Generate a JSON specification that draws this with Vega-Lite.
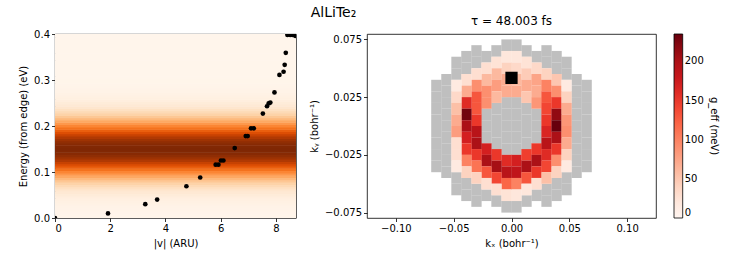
{
  "$schema": "https://vega.github.io/schema/vega-lite/v6.json",
  "padding": {"left": 18, "top": 5, "right": 5, "bottom": 5},
  "bounds": "flush",
  "spacing": 71,
  "datasets": {
    "band": [
      {"e":0.000,"v":0.003},{"e":0.005,"v":0.004},{"e":0.010,"v":0.006},{"e":0.015,"v":0.009},{"e":0.020,"v":0.013},
      {"e":0.025,"v":0.018},{"e":0.030,"v":0.024},{"e":0.035,"v":0.033},{"e":0.040,"v":0.044},{"e":0.045,"v":0.058},
      {"e":0.050,"v":0.076},{"e":0.055,"v":0.097},{"e":0.060,"v":0.123},{"e":0.065,"v":0.155},{"e":0.070,"v":0.192},
      {"e":0.075,"v":0.234},{"e":0.080,"v":0.282},{"e":0.085,"v":0.336},{"e":0.090,"v":0.395},{"e":0.095,"v":0.458},
      {"e":0.100,"v":0.524},{"e":0.105,"v":0.593},{"e":0.110,"v":0.662},{"e":0.115,"v":0.729},{"e":0.120,"v":0.793},
      {"e":0.125,"v":0.851},{"e":0.130,"v":0.902},{"e":0.135,"v":0.944},{"e":0.140,"v":0.975},{"e":0.145,"v":0.994},
      {"e":0.150,"v":1.000},{"e":0.155,"v":0.994},{"e":0.160,"v":0.975},{"e":0.165,"v":0.944},{"e":0.170,"v":0.902},
      {"e":0.175,"v":0.851},{"e":0.180,"v":0.793},{"e":0.185,"v":0.729},{"e":0.190,"v":0.662},{"e":0.195,"v":0.593},
      {"e":0.200,"v":0.524},{"e":0.205,"v":0.458},{"e":0.210,"v":0.395},{"e":0.215,"v":0.336},{"e":0.220,"v":0.282},
      {"e":0.225,"v":0.234},{"e":0.230,"v":0.192},{"e":0.235,"v":0.155},{"e":0.240,"v":0.123},{"e":0.245,"v":0.097},
      {"e":0.250,"v":0.076},{"e":0.255,"v":0.058},{"e":0.260,"v":0.044},{"e":0.265,"v":0.033},{"e":0.270,"v":0.024},
      {"e":0.275,"v":0.018},{"e":0.280,"v":0.013},{"e":0.285,"v":0.009},{"e":0.290,"v":0.006},{"e":0.295,"v":0.004},
      {"e":0.300,"v":0.003},{"e":0.305,"v":0.002},{"e":0.310,"v":0.001},{"e":0.315,"v":0.001},{"e":0.320,"v":0.001},
      {"e":0.325,"v":0},{"e":0.330,"v":0},{"e":0.335,"v":0},{"e":0.340,"v":0},{"e":0.345,"v":0},
      {"e":0.350,"v":0},{"e":0.355,"v":0},{"e":0.360,"v":0},{"e":0.365,"v":0},{"e":0.370,"v":0},
      {"e":0.375,"v":0},{"e":0.380,"v":0},{"e":0.385,"v":0},{"e":0.390,"v":0},{"e":0.395,"v":0},{"e":0.400,"v":0}
    ],
    "pts": [
      {"speed":0,"energy":0},{"speed":1.92,"energy":0.010},{"speed":3.27,"energy":0.030},{"speed":3.70,"energy":0.040},
      {"speed":4.76,"energy":0.069},{"speed":5.26,"energy":0.088},{"speed":5.82,"energy":0.116},{"speed":5.92,"energy":0.116},
      {"speed":6.01,"energy":0.125},{"speed":6.10,"energy":0.125},{"speed":6.51,"energy":0.152},{"speed":6.91,"energy":0.178},
      {"speed":6.98,"energy":0.178},{"speed":7.10,"energy":0.195},{"speed":7.20,"energy":0.195},{"speed":7.53,"energy":0.227},
      {"speed":7.68,"energy":0.243},{"speed":7.74,"energy":0.249},{"speed":7.80,"energy":0.251},{"speed":7.95,"energy":0.273},
      {"speed":8.13,"energy":0.311},{"speed":8.28,"energy":0.318},{"speed":8.32,"energy":0.333},{"speed":8.36,"energy":0.359},
      {"speed":8.42,"energy":0.398},{"speed":8.52,"energy":0.398},{"speed":8.60,"energy":0.398},{"speed":8.70,"energy":0.396}
    ],
    "grey": [
      {"kx":0.065,"ky":0.005},{"kx":0.065,"ky":0.015},{"kx":0.065,"ky":0.025},{"kx":0.065,"ky":0.035},
      {"kx":0.065,"ky":-0.005},{"kx":0.065,"ky":-0.015},{"kx":0.065,"ky":-0.025},{"kx":0.065,"ky":-0.035},
      {"kx":-0.065,"ky":0.005},{"kx":-0.065,"ky":0.015},{"kx":-0.065,"ky":0.025},{"kx":-0.065,"ky":0.035},
      {"kx":-0.065,"ky":-0.005},{"kx":-0.065,"ky":-0.015},{"kx":-0.065,"ky":-0.025},{"kx":-0.065,"ky":-0.035},
      {"kx":0.0563,"ky":0},{"kx":0.0563,"ky":0.01},{"kx":0.0563,"ky":0.02},{"kx":0.0563,"ky":0.03},{"kx":0.0563,"ky":0.04},
      {"kx":0.0563,"ky":-0.01},{"kx":0.0563,"ky":-0.02},{"kx":0.0563,"ky":-0.03},{"kx":0.0563,"ky":-0.04},
      {"kx":-0.0563,"ky":0},{"kx":-0.0563,"ky":0.01},{"kx":-0.0563,"ky":0.02},{"kx":-0.0563,"ky":0.03},{"kx":-0.0563,"ky":0.04},
      {"kx":-0.0563,"ky":-0.01},{"kx":-0.0563,"ky":-0.02},{"kx":-0.0563,"ky":-0.03},{"kx":-0.0563,"ky":-0.04},
      {"kx":0.0476,"ky":0.045},{"kx":0.0476,"ky":0.055},{"kx":0.0476,"ky":-0.045},{"kx":0.0476,"ky":-0.055},
      {"kx":-0.0476,"ky":0.045},{"kx":-0.0476,"ky":0.055},{"kx":-0.0476,"ky":-0.045},{"kx":-0.0476,"ky":-0.055},
      {"kx":0.039,"ky":0.05},{"kx":0.039,"ky":0.06},{"kx":0.039,"ky":-0.05},{"kx":0.039,"ky":-0.06},
      {"kx":-0.039,"ky":0.05},{"kx":-0.039,"ky":0.06},{"kx":-0.039,"ky":-0.05},{"kx":-0.039,"ky":-0.06},
      {"kx":0.0303,"ky":0.055},{"kx":0.0303,"ky":0.065},{"kx":0.0303,"ky":-0.055},{"kx":0.0303,"ky":-0.065},
      {"kx":-0.0303,"ky":0.055},{"kx":-0.0303,"ky":0.065},{"kx":-0.0303,"ky":-0.055},{"kx":-0.0303,"ky":-0.065},
      {"kx":0.0217,"ky":0.06},{"kx":0.0217,"ky":-0.06},{"kx":-0.0217,"ky":0.06},{"kx":-0.0217,"ky":-0.06},
      {"kx":0.013,"ky":0.065},{"kx":0.013,"ky":-0.065},{"kx":-0.013,"ky":0.065},{"kx":-0.013,"ky":-0.065},
      {"kx":0.0043,"ky":0.07},{"kx":0.0043,"ky":-0.07},{"kx":-0.0043,"ky":0.07},{"kx":-0.0043,"ky":-0.07},
      {"kx":0.0217,"ky":0},{"kx":0.0217,"ky":0.01},{"kx":0.0217,"ky":-0.01},
      {"kx":-0.0217,"ky":0},{"kx":-0.0217,"ky":0.01},{"kx":-0.0217,"ky":-0.01},
      {"kx":0.013,"ky":0.005},{"kx":0.013,"ky":0.015},{"kx":0.013,"ky":-0.005},{"kx":0.013,"ky":-0.015},
      {"kx":-0.013,"ky":0.005},{"kx":-0.013,"ky":0.015},{"kx":-0.013,"ky":-0.005},{"kx":-0.013,"ky":-0.015},
      {"kx":0.0043,"ky":0},{"kx":0.0043,"ky":0.01},{"kx":0.0043,"ky":0.02},{"kx":0.0043,"ky":-0.01},{"kx":0.0043,"ky":-0.02},
      {"kx":-0.0043,"ky":0},{"kx":-0.0043,"ky":0.01},{"kx":-0.0043,"ky":0.02},{"kx":-0.0043,"ky":-0.01},{"kx":-0.0043,"ky":-0.02}
    ],
    "ring": [
      {"kx":0.0043,"ky":0.06,"g":20},{"kx":0.0043,"ky":0.05,"g":35},{"kx":0.0043,"ky":0.04,"g":60},{"kx":0.0043,"ky":0.03,"g":70},
      {"kx":0.0043,"ky":-0.03,"g":170},{"kx":0.0043,"ky":-0.04,"g":185},{"kx":0.0043,"ky":-0.05,"g":100},{"kx":0.0043,"ky":-0.06,"g":20},
      {"kx":0.013,"ky":0.055,"g":25},{"kx":0.013,"ky":0.045,"g":45},{"kx":0.013,"ky":0.035,"g":70},{"kx":0.013,"ky":0.025,"g":50},
      {"kx":0.013,"ky":-0.025,"g":145},{"kx":0.013,"ky":-0.035,"g":200},{"kx":0.013,"ky":-0.045,"g":130},{"kx":0.013,"ky":-0.055,"g":20},
      {"kx":0.0217,"ky":0.05,"g":35},{"kx":0.0217,"ky":0.04,"g":75},{"kx":0.0217,"ky":0.03,"g":70},{"kx":0.0217,"ky":0.02,"g":85},
      {"kx":0.0217,"ky":-0.02,"g":150},{"kx":0.0217,"ky":-0.03,"g":200},{"kx":0.0217,"ky":-0.04,"g":150},{"kx":0.0217,"ky":-0.05,"g":30},
      {"kx":0.0303,"ky":0.045,"g":40},{"kx":0.0303,"ky":0.035,"g":100},{"kx":0.0303,"ky":0.025,"g":130},{"kx":0.0303,"ky":0.015,"g":140},
      {"kx":0.0303,"ky":0.005,"g":150},{"kx":0.0303,"ky":-0.005,"g":165},{"kx":0.0303,"ky":-0.015,"g":190},{"kx":0.0303,"ky":-0.025,"g":160},
      {"kx":0.0303,"ky":-0.035,"g":140},{"kx":0.0303,"ky":-0.045,"g":55},
      {"kx":0.039,"ky":0.04,"g":50},{"kx":0.039,"ky":0.03,"g":90},{"kx":0.039,"ky":0.02,"g":150},{"kx":0.039,"ky":0.01,"g":215},
      {"kx":0.039,"ky":0,"g":235},{"kx":0.039,"ky":-0.01,"g":200},{"kx":0.039,"ky":-0.02,"g":150},{"kx":0.039,"ky":-0.03,"g":90},
      {"kx":0.039,"ky":-0.04,"g":40},
      {"kx":0.0476,"ky":0.035,"g":15},{"kx":0.0476,"ky":0.025,"g":40},{"kx":0.0476,"ky":0.015,"g":70},{"kx":0.0476,"ky":0.005,"g":85},
      {"kx":0.0476,"ky":-0.005,"g":90},{"kx":0.0476,"ky":-0.015,"g":70},{"kx":0.0476,"ky":-0.025,"g":40},{"kx":0.0476,"ky":-0.035,"g":15},
      {"kx":-0.0043,"ky":0.06,"g":20},{"kx":-0.0043,"ky":0.05,"g":40},{"kx":-0.0043,"ky":0.04,"g":70},{"kx":-0.0043,"ky":0.03,"g":70},
      {"kx":-0.0043,"ky":-0.03,"g":160},{"kx":-0.0043,"ky":-0.04,"g":190},{"kx":-0.0043,"ky":-0.05,"g":120},{"kx":-0.0043,"ky":-0.06,"g":25},
      {"kx":-0.013,"ky":0.055,"g":25},{"kx":-0.013,"ky":0.045,"g":60},{"kx":-0.013,"ky":0.035,"g":80},{"kx":-0.013,"ky":0.025,"g":60},
      {"kx":-0.013,"ky":-0.025,"g":150},{"kx":-0.013,"ky":-0.035,"g":205},{"kx":-0.013,"ky":-0.045,"g":140},{"kx":-0.013,"ky":-0.055,"g":30},
      {"kx":-0.0217,"ky":0.05,"g":30},{"kx":-0.0217,"ky":0.04,"g":60},{"kx":-0.0217,"ky":0.03,"g":90},{"kx":-0.0217,"ky":0.02,"g":90},
      {"kx":-0.0217,"ky":-0.02,"g":170},{"kx":-0.0217,"ky":-0.03,"g":200},{"kx":-0.0217,"ky":-0.04,"g":130},{"kx":-0.0217,"ky":-0.05,"g":30},
      {"kx":-0.0303,"ky":0.045,"g":30},{"kx":-0.0303,"ky":0.035,"g":90},{"kx":-0.0303,"ky":0.025,"g":130},{"kx":-0.0303,"ky":0.015,"g":130},
      {"kx":-0.0303,"ky":0.005,"g":150},{"kx":-0.0303,"ky":-0.005,"g":190},{"kx":-0.0303,"ky":-0.015,"g":200},{"kx":-0.0303,"ky":-0.025,"g":150},
      {"kx":-0.0303,"ky":-0.035,"g":110},{"kx":-0.0303,"ky":-0.045,"g":40},
      {"kx":-0.039,"ky":0.04,"g":30},{"kx":-0.039,"ky":0.03,"g":70},{"kx":-0.039,"ky":0.02,"g":160},{"kx":-0.039,"ky":0.01,"g":230},
      {"kx":-0.039,"ky":0,"g":200},{"kx":-0.039,"ky":-0.01,"g":170},{"kx":-0.039,"ky":-0.02,"g":150},{"kx":-0.039,"ky":-0.03,"g":100},
      {"kx":-0.039,"ky":-0.04,"g":40},
      {"kx":-0.0476,"ky":0.035,"g":15},{"kx":-0.0476,"ky":0.025,"g":35},{"kx":-0.0476,"ky":0.015,"g":55},{"kx":-0.0476,"ky":0.005,"g":70},
      {"kx":-0.0476,"ky":-0.005,"g":80},{"kx":-0.0476,"ky":-0.015,"g":30},{"kx":-0.0476,"ky":-0.025,"g":30},{"kx":-0.0476,"ky":-0.035,"g":15}
    ],
    "marker": [{"kx":0,"ky":0.0417}]
  },
  "hconcat": [
    {
      "width": 241,
      "height": 184,
      "title": {"text": "AlLiTe₂", "fontSize": 14, "anchor": "middle", "dx": 158, "offset": 9},
      "layer": [
        {
          "data": {"name": "band"},
          "mark": {"type": "rect", "height": 2.8, "clip": true},
          "encoding": {
            "x": {"datum": 0, "type": "quantitative", "scale": {"domain": [0, 8.73], "nice": false, "zero": false},
                  "axis": {"values": [0, 2, 4, 6, 8], "format": "d", "title": "|v| (ARU)"}},
            "x2": {"datum": 8.73},
            "y": {"field": "e", "type": "quantitative", "scale": {"domain": [0, 0.4], "nice": false},
                  "axis": {"values": [0, 0.1, 0.2, 0.3, 0.4], "format": ".1f", "title": "Energy (from edge) (eV)"}},
            "color": {"field": "v", "type": "quantitative",
                      "scale": {"domain": [0, 0.125, 0.25, 0.375, 0.5, 0.625, 0.75, 0.875, 1],
                                "range": ["#fff5eb","#fee6ce","#fdd0a2","#fdae6b","#fd8d3c","#f16913","#d94801","#a63603","#7f2704"],
                                "interpolate": "rgb"},
                      "legend": null}
          }
        },
        {
          "data": {"name": "pts"},
          "mark": {"type": "point", "filled": true, "color": "#000", "size": 22, "opacity": 1, "clip": true},
          "encoding": {
            "x": {"field": "speed", "type": "quantitative"},
            "y": {"field": "energy", "type": "quantitative"}
          }
        }
      ]
    },
    {
      "width": 289,
      "height": 184,
      "title": {"text": "τ =  48.003 fs", "fontSize": 12, "offset": 6},
      "layer": [
        {
          "data": {"name": "grey"},
          "mark": {"type": "rect", "width": 10.3, "height": 11.6, "color": "#bfbfbf"},
          "encoding": {
            "x": {"field": "kx", "type": "quantitative", "scale": {"domain": [-0.125, 0.125], "nice": false, "zero": false},
                  "axis": {"values": [-0.1, -0.05, 0, 0.05, 0.1], "format": ".2f", "title": "kₓ (bohr⁻¹)"}},
            "y": {"field": "ky", "type": "quantitative", "scale": {"domain": [-0.0797, 0.0797], "nice": false, "zero": false},
                  "axis": {"values": [-0.075, -0.05, -0.025, 0, 0.025, 0.05, 0.075], "format": ".3f", "title": "kᵧ (bohr⁻¹)"}}
          }
        },
        {
          "data": {"name": "ring"},
          "mark": {"type": "rect", "width": 10.3, "height": 11.6},
          "encoding": {
            "x": {"field": "kx", "type": "quantitative"},
            "y": {"field": "ky", "type": "quantitative"},
            "color": {"field": "g", "type": "quantitative",
                      "scale": {"domain": [0, 29.375, 58.75, 88.125, 117.5, 146.875, 176.25, 205.625, 235],
                                "range": ["#fff5f0","#fee0d2","#fcbba1","#fc9272","#fb6a4a","#ef3b2c","#cb181d","#a50f15","#67000d"],
                                "interpolate": "rgb"},
                      "legend": {"title": "g_eff (meV)", "values": [0, 50, 100, 150, 200]}}
          }
        },
        {
          "data": {"name": "marker"},
          "mark": {"type": "square", "filled": true, "color": "#000", "size": 150, "opacity": 1},
          "encoding": {
            "x": {"field": "kx", "type": "quantitative"},
            "y": {"field": "ky", "type": "quantitative"}
          }
        }
      ]
    }
  ],
  "resolve": {"scale": {"color": "independent"}, "legend": {"color": "independent"}},
  "config": {
    "font": "DejaVu Sans",
    "view": {"stroke": "#000", "strokeWidth": 0.8},
    "axis": {
      "labelFont": "DejaVu Sans", "labelFontSize": 10, "labelColor": "#000",
      "titleFont": "DejaVu Sans", "titleFontSize": 10, "titleFontWeight": "normal", "titleColor": "#000",
      "tickColor": "#000", "tickSize": 3.5, "tickWidth": 0.8, "domain": false, "grid": false,
      "labelPadding": 2, "titlePadding": 5, "labelOverlap": false
    },
    "legend": {
      "gradientLength": 184, "gradientThickness": 8.7, "labelFont": "DejaVu Sans", "labelFontSize": 10, "labelColor": "#000",
      "labelOffset": 8, "gradientStrokeColor": "#000", "gradientStrokeWidth": 0.8, "titleOrient": "right",
      "titleFont": "DejaVu Sans", "titleFontSize": 10, "titleFontWeight": "normal", "titleColor": "#000",
      "titleAnchor": "middle", "offset": 18, "padding": 0, "labelOverlap": false, "labelBaseline": "middle"
    },
    "title": {"font": "DejaVu Sans", "fontWeight": "normal", "color": "#000"}
  }
}
